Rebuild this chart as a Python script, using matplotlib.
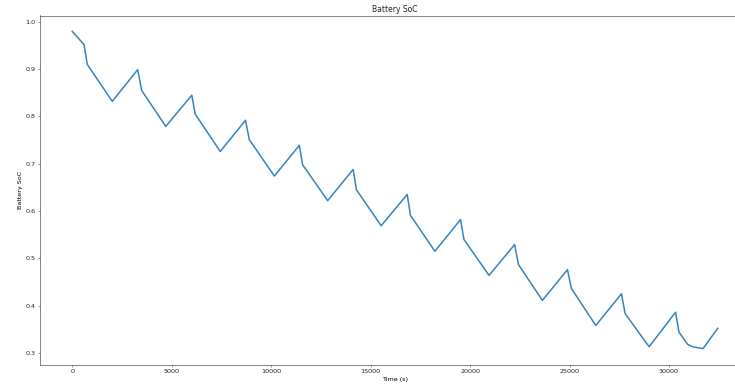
import matplotlib
matplotlib.use("Agg")
from matplotlib import pyplot as plt

# time (s) and state of charge
time_s = [0, 590, 755, 2010, 3290, 3490, 4700, 6010, 6180, 7440, 8710, 8900,
          10160, 11415, 11580, 12840, 14120, 14285, 15530, 16840, 17000, 18230,
          19520, 19690, 20950, 22240, 22430, 23635, 24895, 25095, 26320, 27610,
          27795, 29000, 30330, 30500, 30940, 31190, 31710, 32450]
soc = [0.980, 0.952, 0.910, 0.832, 0.899, 0.855, 0.779, 0.845, 0.805, 0.726,
       0.792, 0.751, 0.674, 0.739, 0.698, 0.622, 0.688, 0.645, 0.569, 0.635,
       0.591, 0.515, 0.582, 0.540, 0.464, 0.529, 0.487, 0.411, 0.476, 0.436,
       0.358, 0.425, 0.383, 0.313, 0.386, 0.344, 0.318, 0.313, 0.309, 0.352]

s = 0.46  # the reference is a shrunk screenshot of a default-styled figure
plt.rcParams.update({
    'font.size': 10 * s,
    'axes.titlesize': 12 * s,
    'axes.labelsize': 10 * s,
    'axes.linewidth': 1.0 * s,
    'axes.edgecolor': '#444444',
    'axes.titlepad': 6 * s,
    'axes.labelpad': 4 * s,
    'text.color': '#222222',
    'xtick.color': '#444444',
    'ytick.color': '#444444',
    'xtick.labelcolor': '#222222',
    'ytick.labelcolor': '#222222',
    'xtick.major.size': 3.5 * s,
    'ytick.major.size': 3.5 * s,
    'xtick.major.width': 0.8 * s,
    'ytick.major.width': 0.8 * s,
    'xtick.major.pad': 3.5 * s,
    'ytick.major.pad': 3.5 * s,
})

fig = plt.figure(figsize=(7.35, 3.86), dpi=100)
# the right edge of the original axes is cut off in the reference
ax = fig.add_axes([40 / 735, 21.5 / 386, 710 / 735, 349 / 386])
ax.plot(time_s, soc, color='#3584c2', linewidth=1.1)
ax.set_title('Battery SoC')
ax.set_xlabel('Time (s)')
ax.set_ylabel('Battery SoC')

fig.savefig('out.png', dpi=100)
